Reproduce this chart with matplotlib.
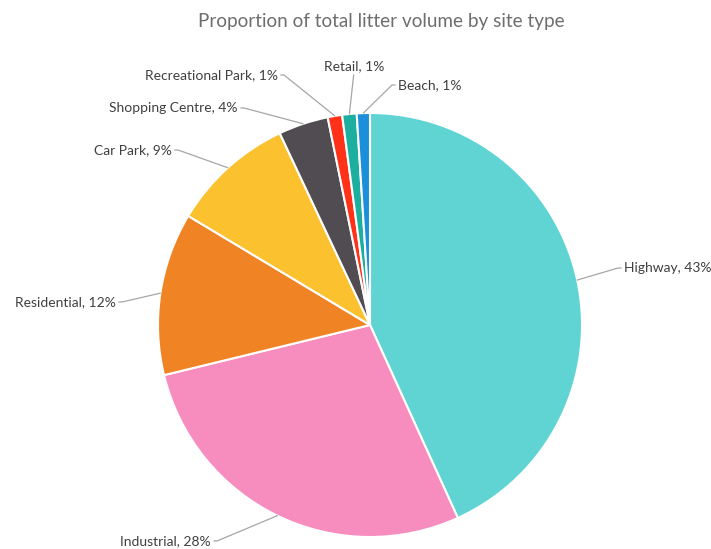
import numpy as np
import matplotlib
matplotlib.use("Agg")
import matplotlib.pyplot as plt

plt.rcParams['font.family'] = ['Lato', 'DejaVu Sans']

site_types = ["Highway", "Industrial", "Residential", "Car Park",
              "Shopping Centre", "Recreational Park", "Retail", "Beach"]
shares = [43.2, 28.0, 12.4, 9.4, 3.8, 1.1, 1.1, 1.0]
pct_labels = ["43%", "28%", "12%", "9%", "4%", "1%", "1%", "1%"]

colors = ["#5FD4D3", "#F78CBE", "#F08424", "#FBC12E",
          "#514C51", "#FF3119", "#1CAE9F", "#1B8FD9"]

# label anchor positions in pixels (x, y) and alignment
label_px = [(624, 268, "left"), (211, 541, "right"), (116, 302, "right"),
            (172, 150, "right"), (238, 108, "right"), (278, 75, "right"),
            (354, 66, "center"), (398, 85, "left")]

W, H = 711, 549
cx, cy, R = 370, 325, 212

fig = plt.figure(figsize=(W / 100, H / 100), dpi=100)
ax = fig.add_axes([0, 0, 1, 1])

wedges, _ = ax.pie(shares, colors=colors, startangle=90, counterclock=False,
                   radius=1.0, wedgeprops=dict(edgecolor="white", linewidth=1.5))

ax.set_aspect("auto")
ax.set_xlim(-cx / R, (W - cx) / R)
ax.set_ylim((cy - H) / R, cy / R)
ax.axis("off")


def px_to_data(px, py):
    return (px - cx) / R, (cy - py) / R


for w, name, pct, (lx, ly, ha) in zip(wedges, site_types, pct_labels, label_px):
    mid = np.deg2rad((w.theta1 + w.theta2) / 2)
    xy = (np.cos(mid), np.sin(mid))
    tx, ty = px_to_data(lx, ly)
    if ha == "left":
        rel, conn = (0, 0.5), "arc,angleA=180,angleB=0,armA=6,armB=0,rad=0"
    elif ha == "right":
        rel, conn = (1, 0.5), "arc,angleA=0,angleB=0,armA=6,armB=0,rad=0"
    else:
        rel, conn = (0.5, 0), "arc3,rad=0"
    ax.annotate(f"{name}, {pct}", xy=xy, xytext=(tx, ty),
                ha=ha, va="center", fontsize=10, color="#404040",
                arrowprops=dict(arrowstyle="-", color="#A6A6A6", lw=0.9,
                                shrinkA=0, shrinkB=0, relpos=rel,
                                connectionstyle=conn))

fig.text(381 / W, 1 - 22 / H, "Proportion of total litter volume by site type",
         ha="center", va="center", fontsize=13.6, color="#6E6E6E")

fig.savefig("out.png", dpi=100, facecolor="white")
